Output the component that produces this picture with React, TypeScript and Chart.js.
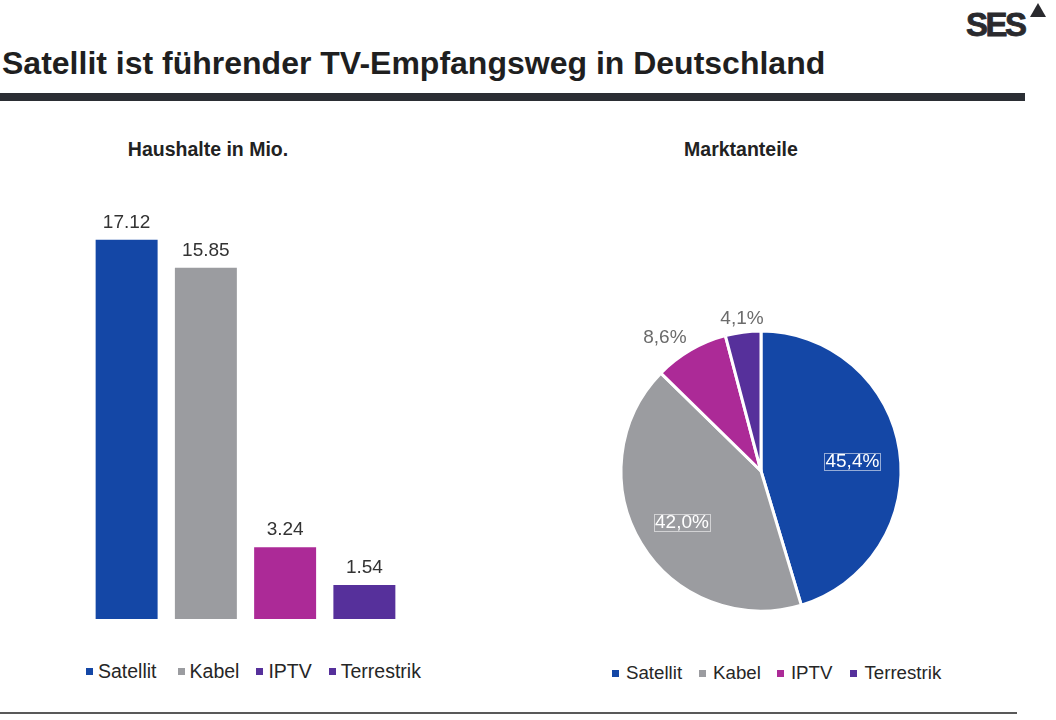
import { useEffect, useRef } from 'react';
import { Chart, registerables, Plugin } from 'chart.js';

Chart.register(...registerables);

// values
const categories = ['Satellit', 'Kabel', 'IPTV', 'Terrestrik'];
const householdValues = [17.12, 15.85, 3.24, 1.54]; // Haushalte in Mio.
const shareValues = [45.4, 42.0, 8.6, 4.1]; // Marktanteile in %
const householdAxisMax = 19;

const seriesColors = ['#1447a6', '#9b9ca0', '#ac2a97', '#56309b'];
// the bar legend on the slide shows IPTV in purple, not magenta
const barLegendColors = ['#1447a6', '#9b9ca0', '#56309b', '#56309b'];

const FONT = '"Liberation Sans", Arial, Helvetica, sans-serif';

const BarChart: React.FC = () => {
  const canvasRef = useRef<HTMLCanvasElement>(null);

  useEffect(() => {
    const ctx = canvasRef.current?.getContext('2d');
    if (!ctx) return;

    // value above each bar
    const valueLabels: Plugin<'bar'> = {
      id: 'valueLabels',
      afterDatasetsDraw(chart) {
        const c = chart.ctx;
        const meta = chart.getDatasetMeta(0);
        c.save();
        c.font = `19px ${FONT}`;
        c.fillStyle = '#333333';
        c.textAlign = 'center';
        c.textBaseline = 'alphabetic';
        meta.data.forEach((bar, i) => {
          c.fillText(householdValues[i].toFixed(2), bar.x, bar.y - 12);
        });
        c.restore();
      },
    };

    const chart = new Chart(ctx, {
      type: 'bar',
      data: {
        labels: categories,
        datasets: [
          {
            data: householdValues,
            backgroundColor: seriesColors,
            barPercentage: 0.782,
            categoryPercentage: 1,
          },
        ],
      },
      options: {
        responsive: false,
        animation: false,
        events: [],
        plugins: { legend: { display: false }, tooltip: { enabled: false } },
        scales: {
          x: { display: false },
          y: { display: false, min: 0, max: householdAxisMax },
        },
      },
      plugins: [valueLabels],
    });

    return () => chart.destroy();
  }, []);

  return (
    <canvas
      ref={canvasRef}
      width={317}
      height={421}
      style={{ position: 'absolute', left: 87, top: 198 }}
    />
  );
};

const PieChart: React.FC = () => {
  const canvasRef = useRef<HTMLCanvasElement>(null);

  useEffect(() => {
    const ctx = canvasRef.current?.getContext('2d');
    if (!ctx) return;

    const shareLabels: Plugin<'pie'> = {
      id: 'shareLabels',
      afterDatasetsDraw(chart) {
        const c = chart.ctx;
        const meta = chart.getDatasetMeta(0);
        c.save();
        c.font = `19px ${FONT}`;
        meta.data.forEach((arc, i) => {
          const { x, y, startAngle, endAngle, outerRadius } = arc.getProps(
            ['x', 'y', 'startAngle', 'endAngle', 'outerRadius'],
            true
          ) as any;
          const mid = (startAngle + endAngle) / 2;
          const cos = Math.cos(mid);
          const sin = Math.sin(mid);
          const text = shareValues[i].toFixed(1).replace('.', ',') + '%';
          const w = c.measureText(text).width;

          if (shareValues[i] >= 20) {
            // big slices: white label inside, with a thin frame
            const lx = x + cos * outerRadius * 0.66;
            const ly = y + sin * outerRadius * 0.66 + 4;
            c.fillStyle = '#ffffff';
            c.textAlign = 'center';
            c.textBaseline = 'middle';
            c.fillText(text, lx, ly);
            c.strokeStyle = 'rgba(255,255,255,0.55)';
            c.lineWidth = 1;
            c.strokeRect(Math.round(lx - w / 2 - 1) + 0.5, Math.round(ly - 9) + 0.5, Math.round(w + 2), 17);
          } else {
            // small slices: grey label outside
            const ax = x + cos * (outerRadius + 8);
            const ay = y + sin * (outerRadius + 8);
            const cap = 14;
            c.fillStyle = '#6b6b6b';
            c.textAlign = cos < -0.3 ? 'right' : cos > 0.3 ? 'left' : 'center';
            c.textBaseline = 'alphabetic';
            const by = sin < -0.3 ? ay : sin > 0.3 ? ay + cap : ay + cap / 2;
            c.fillText(text, ax, by);
          }
        });
        c.restore();
      },
    };

    const chart = new Chart(ctx, {
      type: 'pie',
      data: {
        labels: categories,
        datasets: [
          {
            data: shareValues,
            backgroundColor: seriesColors,
            borderColor: '#ffffff',
            borderWidth: 3,
          },
        ],
      },
      options: {
        responsive: false,
        animation: false,
        events: [],
        layout: { padding: 38.5 },
        plugins: { legend: { display: false }, tooltip: { enabled: false } },
      },
      plugins: [shareLabels],
    });

    return () => chart.destroy();
  }, []);

  return (
    <canvas
      ref={canvasRef}
      width={360}
      height={360}
      style={{ position: 'absolute', left: 581, top: 291 }}
    />
  );
};

const Legend: React.FC<{
  colors: string[];
  gaps: number[];
  left: number;
  top: number;
  fontSize: number;
  textGap: number;
}> = ({ colors, gaps, left, top, fontSize, textGap }) => (
  <div
    style={{
      position: 'absolute',
      left,
      top,
      height: 20,
      display: 'flex',
      alignItems: 'center',
      fontFamily: FONT,
      fontSize,
      lineHeight: '20px',
      color: '#262626',
      whiteSpace: 'nowrap',
    }}
  >
    {categories.map((name, i) => (
      <span key={name} style={{ display: 'flex', alignItems: 'center', marginRight: gaps[i] ?? 0 }}>
        <span style={{ width: 7, height: 7, background: colors[i], marginRight: textGap }} />
        {name}
      </span>
    ))}
  </div>
);

const App: React.FC = () => {
  return (
    <div
      style={{
        position: 'absolute',
        left: 0,
        top: 0,
        width: 1056,
        height: 720,
        background: '#ffffff',
        overflow: 'hidden',
        fontFamily: FONT,
      }}
    >
      {/* logo */}
      <div
        style={{
          position: 'absolute',
          left: 966,
          top: 8,
          fontSize: 33,
          lineHeight: '33px',
          fontWeight: 700,
          letterSpacing: -2.5,
          color: '#2a2a2e',
          WebkitTextStroke: '0.8px #2a2a2e',
        }}
      >
        SES
      </div>
      <svg width={16} height={15} style={{ position: 'absolute', left: 1030, top: 3 }}>
        <polygon points="0,14 16,14 8,0" fill="#2a2a2e" />
      </svg>

      <div
        style={{
          position: 'absolute',
          left: 2,
          top: 47,
          fontSize: 32,
          lineHeight: '32px',
          fontWeight: 700,
          color: '#1f1f1f',
          whiteSpace: 'nowrap',
        }}
      >
        Satellit ist führender TV-Empfangsweg in Deutschland
      </div>
      <div style={{ position: 'absolute', left: 0, top: 93, width: 1025, height: 8, background: '#2b2e34' }} />

      <div
        style={{
          position: 'absolute',
          left: 108,
          top: 140,
          width: 200,
          textAlign: 'center',
          fontSize: 19.5,
          lineHeight: '19.5px',
          fontWeight: 700,
          color: '#222222',
        }}
      >
        Haushalte in Mio.
      </div>
      <div
        style={{
          position: 'absolute',
          left: 641,
          top: 140,
          width: 200,
          textAlign: 'center',
          fontSize: 19.5,
          lineHeight: '19.5px',
          fontWeight: 700,
          color: '#222222',
        }}
      >
        Marktanteile
      </div>

      <BarChart />
      <PieChart />

      <Legend colors={barLegendColors} gaps={[21, 17, 17]} left={86} top={661} fontSize={19.5} textGap={5} />
      <Legend colors={seriesColors} gaps={[17, 16, 18]} left={612} top={663} fontSize={18.7} textGap={7} />

      <div style={{ position: 'absolute', left: 0, top: 712, width: 1017, height: 2, background: '#595959' }} />
    </div>
  );
};

export default App;
